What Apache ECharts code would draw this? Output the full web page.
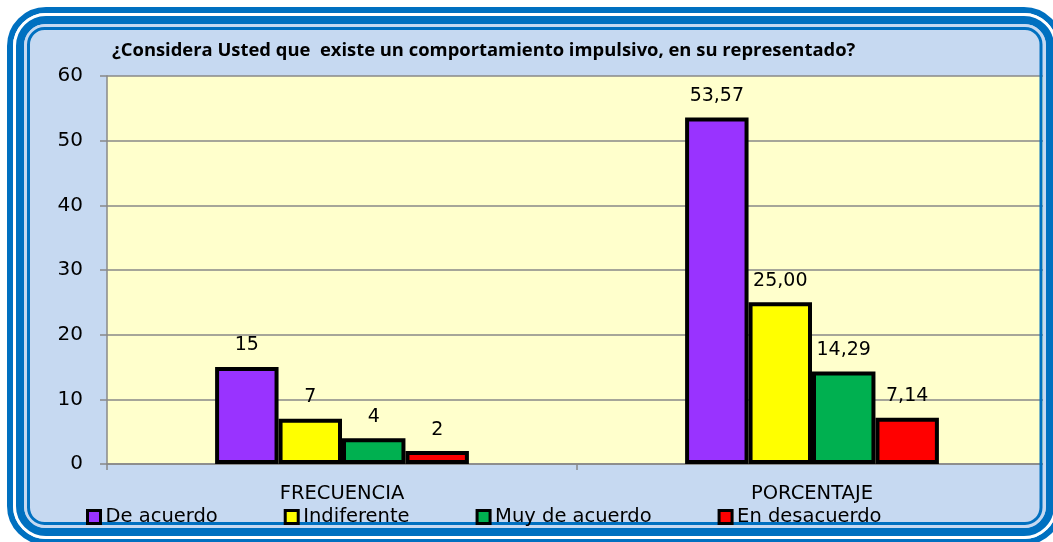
<!DOCTYPE html>
<html><head><meta charset="utf-8">
<script src="https://cdn.jsdelivr.net/npm/echarts@6/dist/echarts.min.js"></script>
<style>html,body{margin:0;padding:0;background:#fff}#c{width:1053px;height:542px}</style>
</head><body><div id="c"></div>
<script>
const titleText = '¿Considera Usted que  existe un comportamiento impulsivo, en su representado?';
const categories = ['FRECUENCIA', 'PORCENTAJE'];
const seriesNames = ['De acuerdo', 'Indiferente', 'Muy de acuerdo', 'En desacuerdo'];
const deAcuerdo = [15, 53.57];
const indiferente = [7, 25.00];
const muyDeAcuerdo = [4, 14.29];
const enDesacuerdo = [2, 7.14];
const yTicks = [0, 10, 20, 30, 40, 50, 60];

const colors = ['#9933FF', '#FFFF00', '#00B050', '#FF0000'];
const values = [deAcuerdo, indiferente, muyDeAcuerdo, enDesacuerdo];
const FONT = 'DejaVu Sans';

const chart = echarts.init(document.getElementById('c'), null, {renderer: 'canvas'});
const blue = '#0070C0', inner = '#C6D9F1';
chart.setOption({
  animation: false,
  backgroundColor: '#ffffff',
  graphic: [
    {type: 'rect', z: -10, silent: true, shape: {x: 16, y: 16, width: 1040, height: 520, r: 28}, style: {fill: inner}},
    {type: 'rect', z: 100, silent: true, shape: {x: 10, y: 10, width: 1050, height: 532, r: 36}, style: {fill: 'none', stroke: blue, lineWidth: 6}},
    {type: 'rect', z: 100, silent: true, shape: {x: 14.5, y: 14.5, width: 1041, height: 523, r: 32}, style: {fill: 'none', stroke: '#ffffff', lineWidth: 3}},
    {type: 'rect', z: 100, silent: true, shape: {x: 20, y: 20, width: 1030, height: 512, r: 26}, style: {fill: 'none', stroke: blue, lineWidth: 8}},
    {type: 'rect', z: 100, silent: true, shape: {x: 25.5, y: 25.5, width: 1019, height: 501, r: 20}, style: {fill: 'none', stroke: inner, lineWidth: 3}},
    {type: 'rect', z: 100, silent: true, shape: {x: 28.5, y: 28.5, width: 1012.5, height: 495, r: 16}, style: {fill: 'none', stroke: blue, lineWidth: 3}},
    {type: 'text', z: 50, left: 112, top: 42, style: {text: titleText, font: 'bold 18.4px "Open Sans"', fill: '#000'}}
  ],
  grid: {left: 107, right: 6, top: 76, bottom: 78, show: true, backgroundColor: '#FFFFCC', borderWidth: 0},
  legend: {
    data: seriesNames.map(n => ({name: n, icon: 'rect'})), left: 86, top: 507, padding: 0,
    itemGap: 66, itemWidth: 13, itemHeight: 13, z: 120,
    textStyle: {fontFamily: FONT, fontSize: 19.5, color: '#000', padding: [0, 0, 0, 0]},
    itemStyle: {borderColor: '#000', borderWidth: 3}
  },
  xAxis: {
    type: 'category', data: categories,
    axisLine: {lineStyle: {color: '#888', width: 1.5}},
    axisTick: {show: true, length: 6, lineStyle: {color: '#888', width: 1.5}},
    axisLabel: {fontFamily: FONT, fontSize: 19.5, color: '#000', margin: 20}
  },
  yAxis: {
    type: 'value', min: 0, max: 60, interval: 10,
    axisLine: {show: true, lineStyle: {color: '#888', width: 1.5}},
    axisTick: {show: true, length: 7, lineStyle: {color: '#888', width: 1.5}},
    axisLabel: {fontFamily: FONT, fontSize: 20, color: '#000', margin: 24,
      formatter: v => yTicks.includes(v) ? String(v) : ''},
    splitLine: {lineStyle: {color: '#888', width: 1.5}}
  },
  series: seriesNames.map((n, i) => ({
    type: 'bar', name: n, data: values[i], barGap: '0%', barCategoryGap: '46%',
    itemStyle: {color: colors[i], borderColor: '#000', borderWidth: 4},
    label: {show: true, position: 'top', distance: 12, fontFamily: FONT, fontSize: 19, color: '#000',
      formatter: p => p.dataIndex === 1 ? p.value.toFixed(2).replace('.', ',') : String(p.value)}
  }))
});
</script></body></html>
